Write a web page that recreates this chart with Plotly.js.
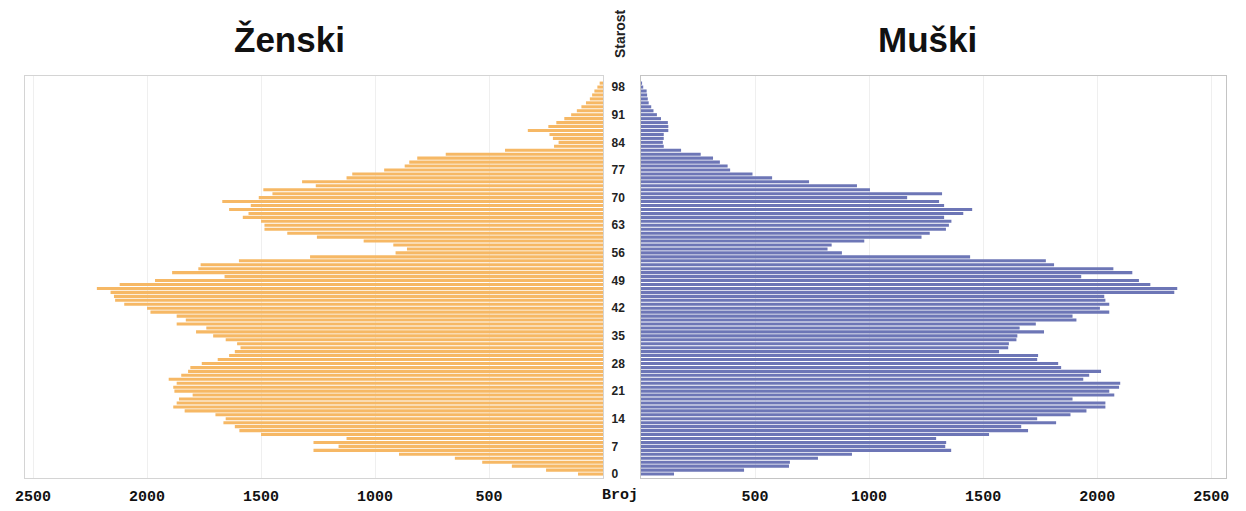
<!DOCTYPE html>
<html>
<head>
<meta charset="utf-8">
<script src="https://cdn.plot.ly/plotly-3.0.1.min.js"></script>
<style>html,body{margin:0;padding:0;background:#fff;}#chart{width:1246px;height:511px;}</style>
</head>
<body>
<div id="chart"></div>
<script>
const ages = [0,1,2,3,4,5,6,7,8,9,10,11,12,13,14,15,16,17,18,19,20,21,22,23,24,25,26,27,28,29,30,31,32,33,34,35,36,37,38,39,40,41,42,43,44,45,46,47,48,49,50,51,52,53,54,55,56,57,58,59,60,61,62,63,64,65,66,67,68,69,70,71,72,73,74,75,76,77,78,79,80,81,82,83,84,85,86,87,88,89,90,91,92,93,94,95,96,97,98,99];

const female = [110,250,400,530,650,895,1270,1160,1270,1125,1500,1595,1615,1665,1655,1700,1835,1885,1870,1860,1800,1880,1885,1870,1905,1850,1820,1810,1760,1690,1640,1615,1590,1605,1655,1710,1785,1740,1870,1830,1870,1985,2000,2100,2140,2145,2160,2220,2120,1965,1660,1890,1775,1765,1597,1285,910,860,920,1050,1255,1385,1485,1485,1500,1580,1555,1640,1545,1670,1510,1450,1490,1260,1320,1125,1100,960,870,850,815,690,430,215,195,220,235,330,240,205,170,140,115,95,75,58,48,38,25,15];

const male = [145,452,649,653,776,925,1360,1334,1338,1294,1526,1697,1667,1820,1737,1883,1953,2036,2036,1892,2075,2053,2096,2101,1939,1965,2017,1842,1829,1737,1741,1570,1610,1613,1646,1650,1767,1660,1731,1909,1892,2053,2012,2053,2036,2031,2338,2351,2233,2183,1930,2154,2071,1811,1775,1443,881,818,836,979,1230,1266,1337,1350,1361,1329,1413,1452,1329,1307,1167,1320,1004,947,737,575,489,391,380,346,316,262,176,100,96,100,100,120,120,118,88,70,55,45,34,30,27,25,10,5];

const ageTicks = [0,7,14,21,28,35,42,49,56,63,70,77,84,91,98];
const countTicks = [500,1000,1500,2000,2500];
const countTickText = ['500','1000','1500','2000','2500'];

const titleFemale = 'Ženski';
const titleMale = 'Muški';
const titleAge = 'Starost';
const titleCount = 'Broj';

const tickFontX = {family:'Liberation Mono, Courier New, monospace', size:15, weight:'bold', color:'#111'};
const ageFont = {family:'Liberation Sans Narrow, Liberation Sans, Arial, sans-serif', size:12, weight:'bold', color:'#222'};
const titleFont = {family:'Liberation Sans, Arial, sans-serif', size:35, weight:'bold', color:'#111'};

const traces = [
  {type:'bar', orientation:'h', y:ages, x:female, xaxis:'x', yaxis:'y',
   marker:{color:'#f6b865', line:{width:0}}, hoverinfo:'x+y', name:titleFemale},
  {type:'bar', orientation:'h', y:ages, x:male, xaxis:'x2', yaxis:'y2',
   marker:{color:'#6d76b6', line:{width:0}}, hoverinfo:'x+y', name:titleMale}
];

const yRange = [-1, 100.8];

const layout = {
  width:1246, height:511,
  margin:{l:0, r:0, t:76, b:33},
  paper_bgcolor:'#ffffff', plot_bgcolor:'#ffffff',
  showlegend:false,
  bargap:0.22,
  xaxis:{domain:[0.0201,0.4840], range:[2535,0], anchor:'y',
    tickvals:countTicks, ticktext:countTickText, tickfont:tickFontX, ticks:'', ticklabelstandoff:4,
    showgrid:true, gridcolor:'#efefef', zeroline:false,
    showline:true, mirror:true, linecolor:'#d4d4d4', linewidth:1},
  yaxis:{domain:[0,1], range:yRange, anchor:'x', side:'right',
    tickvals:ageTicks, tickfont:ageFont, ticks:'', ticklabelstandoff:5,
    showgrid:false, zeroline:false,
    showline:true, mirror:true, linecolor:'#d4d4d4', linewidth:1},
  xaxis2:{domain:[0.5144,0.9840], range:[0,2565], anchor:'y2',
    tickvals:countTicks, ticktext:countTickText, tickfont:tickFontX, ticks:'', ticklabelstandoff:4,
    showgrid:true, gridcolor:'#efefef', zeroline:false,
    showline:true, mirror:true, linecolor:'#c4c4c4', linewidth:1},
  yaxis2:{domain:[0,1], range:yRange, anchor:'x2',
    showticklabels:false, ticks:'', showgrid:false, zeroline:false,
    showline:true, mirror:true, linecolor:'#c4c4c4', linewidth:1},
  annotations:[
    {text:titleFemale, xref:'paper', yref:'paper', x:0.232, y:1.0896, xanchor:'center', yanchor:'middle', showarrow:false,
     font:titleFont},
    {text:titleMale, xref:'paper', yref:'paper', x:0.744, y:1.0896, xanchor:'center', yanchor:'middle', showarrow:false,
     font:titleFont},
    {text:titleAge, xref:'paper', yref:'paper', x:0.4976, y:1.1045, xanchor:'center', yanchor:'middle', showarrow:false, textangle:-90,
     font:{family:'Liberation Sans Narrow, Liberation Sans, Arial, sans-serif', size:14, weight:'bold', color:'#222'}},
    {text:titleCount, xref:'paper', yref:'paper', x:0.4976, y:-0.0423, xanchor:'center', yanchor:'middle', showarrow:false,
     font:tickFontX}
  ]
};

Plotly.newPlot('chart', traces, layout, {staticPlot:true, displayModeBar:false});
</script>
</body>
</html>
